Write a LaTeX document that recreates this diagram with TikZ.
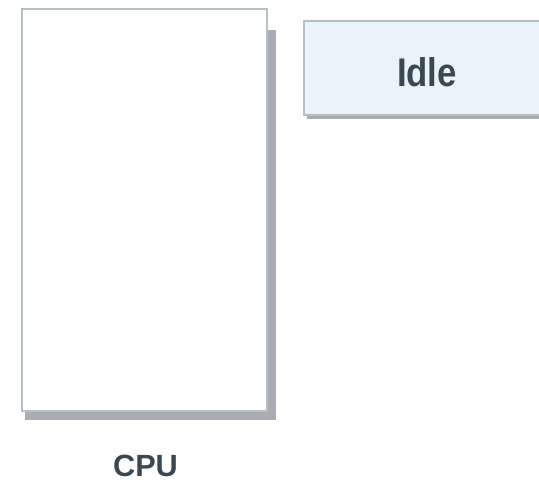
\documentclass[tikz,border=0pt]{standalone}
\usepackage{fontspec}
\setmainfont{Liberation Sans}
\definecolor{edgec}{HTML}{B4C0C8}
\definecolor{idlefill}{HTML}{EAF4F8}
\definecolor{shadowc}{HTML}{A9ADB1}
\definecolor{textc}{HTML}{3A4853}
\begin{document}
\begin{tikzpicture}[x=1pt,y=-1pt,
  box/.style={draw=edgec,line width=1.3pt,inner sep=0pt},
  shade/.style={fill=shadowc,draw=none},
  lbl/.style={text=textc,font=\bfseries,inner sep=0pt}]
\useasboundingbox (0,0) rectangle (539,483);
% CPU shadow and box
\fill[shadowc] (25,30) rectangle (276,420);
\node[box,fill=white,minimum width=245pt,minimum height=402pt] (cpu) at (144.5,210) {};
% Idle shadow and box
\fill[shadowc] (307,30) rectangle (545,119);
\node[box,fill=idlefill,minimum width=241pt,minimum height=94pt] (idle) at (424.5,68) {};
\node[lbl,font=\bfseries\fontsize{40}{40}\selectfont,xscale=0.87] (idlet) at (427,72.5) {Idle};
\node[lbl,font=\bfseries\fontsize{30.7}{30.7}\selectfont] (cput) at (145.5,466) {CPU};
\end{tikzpicture}
\end{document}
